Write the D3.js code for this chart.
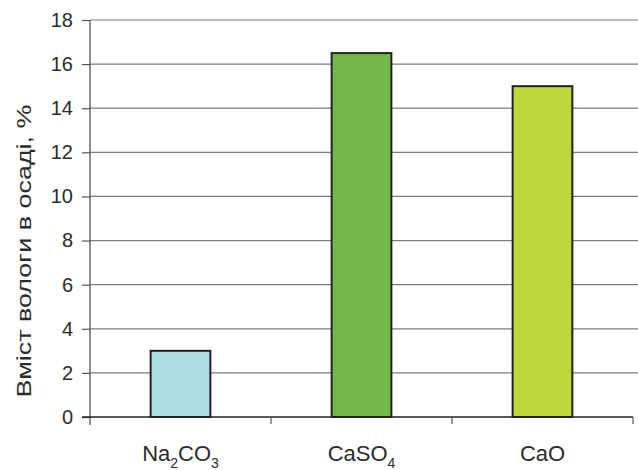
<!DOCTYPE html>
<html>
<head>
<meta charset="utf-8">
<script src="https://cdn.jsdelivr.net/npm/d3@7"></script>
<style>
  html, body { margin: 0; padding: 0; background: #fff; }
  svg { display: block; font-family: "Liberation Sans", Arial, sans-serif; }
</style>
</head>
<body>
<svg id="chart" width="638" height="470"></svg>
<script>
// Moisture content of the sediment for each reagent
const categories = ["Na2CO3", "CaSO4", "CaO"];
const labelParts = [
  [["Na", false], ["2", true], ["CO", false], ["3", true]],
  [["CaSO", false], ["4", true]],
  [["CaO", false]]
];
const values = [3, 16.5, 15];
const colors = ["#addde4", "#74b84b", "#bdd73b"];
const yTicks = [0, 2, 4, 6, 8, 10, 12, 14, 16, 18];
const yTitle = "Вміст вологи в осаді, %";

const svg = d3.select("#chart");
const plotLeft = 90, plotRight = 633, plotTop = 20, plotBottom = 417;

const x = d3.scaleBand().domain(categories).range([plotLeft, plotRight]).padding(0);
const y = d3.scaleLinear().domain([0, 18]).range([plotBottom, plotTop]);
const barW = x.bandwidth() * 0.33;

// horizontal gridlines
svg.append("g").selectAll("line").data(yTicks.filter(d => d > 0)).join("line")
  .attr("x1", plotLeft).attr("x2", 638)
  .attr("y1", d => y(d)).attr("y2", d => y(d))
  .attr("stroke", "#7d7d7d").attr("stroke-width", 1.2);

// y axis
const yAxis = svg.append("g").attr("transform", `translate(${plotLeft},0)`)
  .call(d3.axisLeft(y).tickValues(yTicks).tickSize(8).tickPadding(9));
yAxis.select(".domain").remove();
yAxis.selectAll(".tick line").attr("stroke", "#555").attr("stroke-width", 1.2);
yAxis.selectAll(".tick text")
  .attr("font-family", "Liberation Sans, Arial, sans-serif")
  .attr("font-size", 20).attr("fill", "#2b2b2b");
svg.append("line").attr("x1", plotLeft).attr("x2", plotLeft).attr("y1", plotTop).attr("y2", plotBottom + 8)
  .attr("stroke", "#555").attr("stroke-width", 1.3);

// bars
svg.append("g").selectAll("rect").data(categories).join("rect")
  .attr("x", (d) => x(d) + x.bandwidth() / 2 - barW / 2)
  .attr("width", barW)
  .attr("y", (d, i) => y(values[i]))
  .attr("height", (d, i) => y(0) - y(values[i]))
  .attr("fill", (d, i) => colors[i])
  .attr("stroke", "#222").attr("stroke-width", 2);

// x axis
svg.append("line").attr("x1", plotLeft - 8).attr("x2", plotRight).attr("y1", plotBottom).attr("y2", plotBottom)
  .attr("stroke", "#222").attr("stroke-width", 1.5);
svg.append("g").selectAll("line").data(categories.slice(1).map(c => x(c)).concat([plotRight])).join("line")
  .attr("x1", d => d).attr("x2", d => d).attr("y1", plotBottom).attr("y2", plotBottom + 7)
  .attr("stroke", "#555").attr("stroke-width", 1.2);

// category labels with subscripts
const lab = svg.append("g").selectAll("text").data(categories).join("text")
  .attr("x", d => x(d) + x.bandwidth() / 2)
  .attr("y", 461)
  .attr("text-anchor", "middle")
  .attr("font-size", 22).attr("fill", "#2b2b2b");
lab.each(function (d, i) {
  const t = d3.select(this);
  labelParts[i].forEach(([s, sub], j) => {
    t.append("tspan").text(s)
      .attr("font-size", sub ? 14 : 22)
      .attr("dy", sub ? 7 : (j > 0 ? -7 : 0));
  });
});

// y axis title
svg.append("text")
  .attr("transform", "translate(31,251) rotate(-90)")
  .attr("text-anchor", "middle")
  .attr("font-size", 21).attr("fill", "#2b2b2b")
  .attr("textLength", 293).attr("lengthAdjust", "spacingAndGlyphs")
  .text(yTitle);
</script>
</body>
</html>
